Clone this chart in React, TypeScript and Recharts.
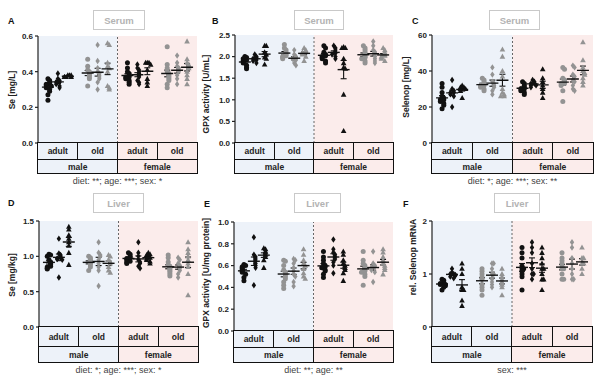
import React from 'react'
import { ScatterChart, Scatter, XAxis, YAxis, ReferenceArea, ReferenceLine, ErrorBar } from 'recharts'

// group order: male adult (circle, diamond, triangle), male old (...), female adult (...), female old (...)
const seSerum = [
  [0.36, 0.35, 0.34, 0.33, 0.33, 0.32, 0.32, 0.31, 0.30, 0.29, 0.27, 0.24],
  [0.39, 0.36, 0.35, 0.34, 0.34, 0.33, 0.32, 0.31],
  [0.38, 0.38, 0.37, 0.37, 0.37, 0.38, 0.37],
  [0.47, 0.43, 0.41, 0.40, 0.39, 0.38, 0.37, 0.36, 0.32],
  [0.55, 0.46, 0.42, 0.40, 0.39, 0.38, 0.37, 0.36, 0.34, 0.30],
  [0.56, 0.55, 0.45, 0.43, 0.42, 0.40, 0.32, 0.31, 0.30],
  [0.45, 0.42, 0.40, 0.39, 0.38, 0.37, 0.37, 0.36, 0.35, 0.34, 0.33],
  [0.44, 0.42, 0.41, 0.40, 0.39, 0.38, 0.37, 0.35, 0.34, 0.33],
  [0.45, 0.45, 0.45, 0.44, 0.41, 0.36, 0.34, 0.32],
  [0.54, 0.44, 0.42, 0.40, 0.39, 0.38, 0.37, 0.36, 0.35, 0.33, 0.31],
  [0.49, 0.45, 0.43, 0.42, 0.41, 0.40, 0.38, 0.36, 0.33],
  [0.57, 0.47, 0.45, 0.44, 0.43, 0.42, 0.40, 0.38, 0.36, 0.33],
]

const gpxSerum = [
  [2.0, 1.98, 1.95, 1.92, 1.9, 1.88, 1.85, 1.8, 1.75, 1.72],
  [2.05, 2.0, 1.98, 1.95, 1.92, 1.9, 1.85],
  [2.25, 2.25, 2.1, 2.05, 1.98, 1.95, 1.82],
  [2.28, 2.2, 2.15, 2.1, 2.05, 2.02, 2.0, 1.98, 1.95],
  [2.15, 2.05, 2.0, 1.98, 1.95, 1.92, 1.85, 1.8],
  [2.2, 2.15, 2.12, 2.1, 2.08, 2.05, 2.0, 1.9],
  [2.25, 2.2, 2.1, 2.05, 2.02, 2.0, 1.98, 1.95, 1.9, 1.85],
  [2.25, 2.2, 2.15, 2.1, 2.08, 2.05, 2.0, 1.95],
  [2.22, 2.2, 2.2, 1.95, 1.85, 1.75, 1.72, 1.12, 0.28],
  [2.25, 2.2, 2.15, 2.1, 2.05, 2.0, 1.98, 1.95, 1.9, 1.85],
  [2.35, 2.25, 2.15, 2.1, 2.05, 2.0, 1.95, 1.9, 1.85],
  [2.2, 2.15, 2.1, 2.05, 2.02, 2.0, 1.98, 1.95, 1.9],
]

const selenopSerum = [
  [33, 31, 28, 26, 25, 24, 24, 23, 22, 21, 19],
  [35, 30, 29, 28, 28, 27, 26, 20],
  [32, 31, 31, 30, 30, 29, 25],
  [36, 35, 34, 33, 32, 32, 31, 30, 29],
  [42, 38, 34, 33, 32, 31, 29, 27],
  [52, 48, 40, 37, 30, 28, 27, 26, 26],
  [34, 33, 32, 31, 30, 30, 29, 28, 27],
  [35, 34, 33, 33, 32, 32, 31],
  [41, 36, 34, 32, 30, 28, 25],
  [42, 41, 36, 35, 34, 33, 33, 32, 29, 23],
  [43, 42, 38, 37, 35, 34, 32, 30, 29],
  [56, 46, 42, 40, 39, 38, 36, 34, 32],
]

const seLiver = [
  [1.03, 1.02, 1.0, 0.95, 0.92, 0.9, 0.88, 0.86, 0.85, 0.83, 0.82],
  [1.25, 1.04, 1.02, 1.0, 0.98, 0.97, 0.96, 0.95, 0.7],
  [1.42, 1.38, 1.3, 1.25, 1.2, 1.15, 1.05, 0.88],
  [1.0, 0.98, 0.96, 0.94, 0.92, 0.9, 0.88, 0.85, 0.8],
  [1.2, 1.05, 1.02, 1.0, 0.95, 0.9, 0.85, 0.8, 0.58],
  [1.02, 1.0, 0.95, 0.92, 0.9, 0.85, 0.8, 0.77],
  [1.05, 1.03, 1.0, 0.98, 0.97, 0.95, 0.93, 0.92, 0.9],
  [1.2, 1.05, 1.0, 0.95, 0.92, 0.9, 0.86, 0.83],
  [1.05, 1.03, 1.02, 1.0, 0.98, 0.97, 0.95, 0.93, 0.9],
  [1.02, 0.98, 0.92, 0.88, 0.86, 0.84, 0.82, 0.8, 0.78, 0.75, 0.72],
  [0.98, 0.95, 0.9, 0.87, 0.85, 0.83, 0.8, 0.75, 0.7],
  [1.2, 1.1, 1.05, 1.0, 0.95, 0.9, 0.85, 0.75, 0.45],
]

const gpxLiver = [
  [0.61, 0.6, 0.59, 0.58, 0.57, 0.56, 0.55, 0.54, 0.52, 0.49, 0.46],
  [0.86, 0.7, 0.68, 0.66, 0.64, 0.62, 0.6, 0.58, 0.42],
  [0.76, 0.75, 0.73, 0.72, 0.7, 0.68, 0.65, 0.58],
  [0.65, 0.64, 0.6, 0.56, 0.54, 0.52, 0.5, 0.48, 0.45, 0.42, 0.39],
  [0.66, 0.65, 0.62, 0.58, 0.55, 0.52, 0.5, 0.45, 0.41],
  [0.75, 0.7, 0.65, 0.62, 0.6, 0.57, 0.53, 0.5, 0.48],
  [0.73, 0.68, 0.65, 0.62, 0.6, 0.59, 0.58, 0.56, 0.55, 0.52, 0.49],
  [0.84, 0.75, 0.72, 0.7, 0.68, 0.66, 0.63, 0.6, 0.53],
  [0.73, 0.7, 0.65, 0.62, 0.6, 0.58, 0.56, 0.53, 0.46],
  [0.73, 0.65, 0.62, 0.6, 0.58, 0.56, 0.55, 0.54, 0.52, 0.5, 0.42],
  [0.73, 0.62, 0.6, 0.59, 0.58, 0.57, 0.56, 0.54, 0.45],
  [0.75, 0.72, 0.68, 0.65, 0.62, 0.6, 0.58, 0.56, 0.52],
]

const selenopMrna = [
  [0.9, 0.88, 0.85, 0.83, 0.82, 0.8, 0.8, 0.78, 0.75, 0.7],
  [1.1, 1.02, 1.0, 1.0, 0.98, 0.97, 0.95, 0.92],
  [1.2, 1.1, 1.0, 0.75, 0.7, 0.7, 0.5, 0.4],
  [1.1, 1.05, 1.0, 0.95, 0.9, 0.8, 0.75, 0.7, 0.6],
  [1.2, 1.2, 1.1, 1.0, 1.0, 0.9, 0.85, 0.8, 0.75],
  [1.1, 1.0, 0.95, 0.9, 0.85, 0.8, 0.75, 0.6],
  [1.5, 1.4, 1.3, 1.15, 1.1, 1.1, 1.05, 1.0, 0.95, 0.7],
  [1.6, 1.5, 1.4, 1.2, 1.1, 1.0, 1.0, 0.9],
  [1.5, 1.4, 1.3, 1.2, 1.1, 1.1, 1.0, 0.9, 0.9, 0.7],
  [1.4, 1.3, 1.25, 1.2, 1.15, 1.1, 1.1, 1.0, 0.9, 0.9],
  [1.6, 1.5, 1.3, 1.2, 1.1, 1.0, 0.9, 0.9],
  [1.5, 1.3, 1.3, 1.2, 1.2, 1.1, 1.0],
]

const ageLabels = ['adult', 'old', 'adult', 'old']
const sexLabels = ['male', 'female']

const FONT = 'Arial, "Liberation Sans", Helvetica, sans-serif'
const BLUE = '#edf2f9'
const PINK = '#fbeceb'
const SHAPES = ['circle', 'diamond', 'triangle']
const COLORS = ['#111111', '#939393']
// slot of each group on the x scale (domain 0..16, 4 slots per subgroup)
const GROUP_X = [1, 2, 3, 5, 6, 7, 9, 10, 11, 13, 14, 15]

function buildPoints(groups: number[][], max: number) {
  const pts: { x: number; y: number; g: number }[] = []
  groups.forEach((vals, g) => {
    const placed: number[] = []
    vals.forEach((v) => {
      const k = placed.filter((p) => Math.abs(p - v) < max * 0.022).length
      const off = k === 0 ? 0 : (k % 2 ? 1 : -1) * Math.min(Math.ceil(k / 2), 2) * 0.17
      placed.push(v)
      pts.push({ x: GROUP_X[g] + off, y: v, g })
    })
  })
  return pts
}

function buildMeans(groups: number[][]) {
  return groups.map((vals, g) => {
    const n = vals.length
    const mean = vals.reduce((a, b) => a + b, 0) / n
    const sd = Math.sqrt(vals.reduce((a, b) => a + (b - mean) ** 2, 0) / (n - 1))
    return { x: GROUP_X[g], y: mean, sem: sd / Math.sqrt(n), g }
  })
}

const Dot = (props: any) => {
  const { cx, cy, payload } = props
  const shape = SHAPES[payload.g % 3]
  const color = COLORS[Math.floor(payload.g / 3) % 2]
  if (shape === 'circle') return <circle cx={cx} cy={cy} r={2.5} fill={color} />
  if (shape === 'diamond')
    return <polygon points={`${cx},${cy - 3.2} ${cx + 2.2},${cy} ${cx},${cy + 3.2} ${cx - 2.2},${cy}`} fill={color} />
  return <polygon points={`${cx},${cy - 3} ${cx + 2.8},${cy + 2.1} ${cx - 2.8},${cy + 2.1}`} fill={color} />
}

const MeanLine = (props: any) => (
  <line x1={props.cx - 6} x2={props.cx + 6} y1={props.cy} y2={props.cy} stroke="#111" strokeWidth={1.4} />
)

interface PanelProps {
  letter: string
  title: string
  yLabel: string
  groups: number[][]
  max: number
  ticks: number[]
  decimals: number
  footnote: string
  plotL: number
  plotR: number
  plotT: number
  plotB: number
  row1: number
  row2: number
  labelX: number
  labelY: number
  letterX: number
  letterY: number
  boxX: number
  boxY: number
  boxW: number
  footY: number
}

function Panel(p: PanelProps) {
  const plotW = p.plotR - p.plotL
  const plotH = p.plotB - p.plotT
  const axisW = 30
  const top = 6
  const bottom = 6
  const points = buildPoints(p.groups, p.max)
  const means = buildMeans(p.groups)
  const cell = (bg: string, last: boolean): React.CSSProperties => ({
    flex: 1,
    background: bg,
    borderRight: last ? 'none' : '1.3px solid #111',
    display: 'flex',
    alignItems: 'center',
    justifyContent: 'center',
    fontSize: 8.5,
    fontWeight: 700,
    color: '#222',
  })
  return (
    <>
      <div style={{ position: 'absolute', left: p.letterX, top: p.letterY - 6, fontSize: 9, fontWeight: 700, color: '#111' }}>
        {p.letter}
      </div>
      <div
        style={{
          position: 'absolute', left: p.boxX, top: p.boxY, width: p.boxW, height: 20, boxSizing: 'border-box',
          border: '1px solid #c9c9c9', color: '#b3b3b3', fontSize: 9.5, fontWeight: 700,
          display: 'flex', alignItems: 'center', justifyContent: 'center',
        }}
      >
        {p.title}
      </div>
      <div
        style={{
          position: 'absolute', left: p.labelX, top: p.labelY, transform: 'translate(-50%, -50%) rotate(-90deg)',
          whiteSpace: 'nowrap', fontSize: 8.5, fontWeight: 700, color: '#222',
        }}
      >
        {p.yLabel}
      </div>
      <div style={{ position: 'absolute', left: p.plotL - axisW, top: p.plotT - top }}>
        <ScatterChart width={plotW + axisW + 2} height={plotH + top + bottom} margin={{ top, right: 2, bottom, left: 0 }}>
          <XAxis type="number" dataKey="x" domain={[0, 16]} hide />
          <YAxis
            type="number"
            dataKey="y"
            domain={[0, p.max]}
            ticks={p.ticks}
            interval={0}
            width={axisW}
            tickSize={3}
            tickMargin={2}
            allowDataOverflow
            tickFormatter={(v: number) => v.toFixed(p.decimals)}
            tick={{ fontSize: 8, fontWeight: 700, fill: '#222', fontFamily: FONT }}
            axisLine={{ stroke: '#222', strokeWidth: 1.2 }}
            tickLine={{ stroke: '#222', strokeWidth: 1.2 }}
          />
          <ReferenceArea x1={0} x2={8} fill={BLUE} fillOpacity={1} stroke="none" />
          <ReferenceArea x1={8} x2={16} fill={PINK} fillOpacity={1} stroke="none" />
          <ReferenceLine x={8} stroke="#666" strokeDasharray="2 2" strokeWidth={1} />
          <Scatter data={points} shape={Dot} isAnimationActive={false} />
          <Scatter data={means} shape={MeanLine} isAnimationActive={false}>
            <ErrorBar dataKey="sem" direction="y" width={3} stroke="#111" strokeWidth={1.1} isAnimationActive={false} />
          </Scatter>
        </ScatterChart>
      </div>
      <div
        style={{
          position: 'absolute', left: p.plotL - 0.6, top: p.plotB - 0.6, width: plotW + 1.2, height: p.row1 + p.row2,
          boxSizing: 'border-box', border: '1.3px solid #111', display: 'flex', flexDirection: 'column',
        }}
      >
        <div style={{ display: 'flex', height: p.row1, borderBottom: '1.3px solid #111', boxSizing: 'border-box' }}>
          {ageLabels.map((a, i) => (
            <div key={i} style={cell(i < 2 ? BLUE : PINK, i === 3)}>{a}</div>
          ))}
        </div>
        <div style={{ display: 'flex', flex: 1 }}>
          {sexLabels.map((s, i) => (
            <div key={i} style={cell(i === 0 ? BLUE : PINK, i === 1)}>{s}</div>
          ))}
        </div>
      </div>
      <div
        style={{
          position: 'absolute', left: p.plotL, width: plotW, top: p.footY - 6, textAlign: 'center',
          fontSize: 9, color: '#444', whiteSpace: 'nowrap',
        }}
      >
        {p.footnote}
      </div>
    </>
  )
}

const PANELS: PanelProps[] = [
  {
    letter: 'A', title: 'Serum', yLabel: 'Se [mg/L]', groups: seSerum, max: 0.6, ticks: [0, 0.2, 0.4, 0.6], decimals: 1,
    footnote: 'diet: **; age: ***; sex: *', plotL: 38, plotR: 197, plotT: 36, plotB: 143, row1: 17, row2: 15,
    labelX: 12, labelY: 90, letterX: 8, letterY: 22, boxX: 93, boxY: 10, boxW: 52, footY: 182,
  },
  {
    letter: 'B', title: 'Serum', yLabel: 'GPX activity [U/mL]', groups: gpxSerum, max: 2.5, ticks: [0, 0.5, 1, 1.5, 2, 2.5], decimals: 1,
    footnote: '', plotL: 235, plotR: 393, plotT: 35, plotB: 143, row1: 17, row2: 15,
    labelX: 206, labelY: 94, letterX: 212, letterY: 22, boxX: 294, boxY: 10, boxW: 50, footY: 182,
  },
  {
    letter: 'C', title: 'Serum', yLabel: 'Selenop [mg/L]', groups: selenopSerum, max: 60, ticks: [0, 20, 40, 60], decimals: 0,
    footnote: 'diet: *; age: ***; sex: **', plotL: 432, plotR: 593, plotT: 35, plotB: 143, row1: 17, row2: 15,
    labelX: 406, labelY: 87, letterX: 412, letterY: 22, boxX: 489, boxY: 10, boxW: 51, footY: 182,
  },
  {
    letter: 'D', title: 'Liver', yLabel: 'Se [mg/kg]', groups: seLiver, max: 1.5, ticks: [0, 0.5, 1, 1.5], decimals: 1,
    footnote: 'diet: *; age: ***; sex: *', plotL: 39, plotR: 198, plotT: 221, plotB: 327, row1: 20, row2: 17,
    labelX: 12, labelY: 275, letterX: 8, letterY: 204, boxX: 93, boxY: 193, boxW: 51, footY: 371,
  },
  {
    letter: 'E', title: 'Liver', yLabel: 'GPX activity [U/mg protein]', groups: gpxLiver, max: 1, ticks: [0, 0.2, 0.4, 0.6, 0.8, 1], decimals: 1,
    footnote: 'diet: **; age: **', plotL: 234, plotR: 393, plotT: 222, plotB: 331, row1: 17, row2: 16,
    labelX: 206, labelY: 273, letterX: 204, letterY: 205, boxX: 294, boxY: 193, boxW: 47, footY: 371,
  },
  {
    letter: 'F', title: 'Liver', yLabel: 'rel. Selenop mRNA', groups: selenopMrna, max: 2, ticks: [0, 1, 2], decimals: 0,
    footnote: 'sex: ***', plotL: 432, plotR: 592, plotT: 221, plotB: 327, row1: 20, row2: 17,
    labelX: 413, labelY: 257, letterX: 403, letterY: 205, boxX: 494, boxY: 193, boxW: 46, footY: 371,
  },
]

export default function App() {
  return (
    <div
      style={{
        position: 'absolute', left: 0, top: 0, width: 600, height: 375, background: '#fff',
        fontFamily: FONT, overflow: 'hidden',
      }}
    >
      {PANELS.map((p) => (
        <Panel key={p.letter} {...p} />
      ))}
    </div>
  )
}
